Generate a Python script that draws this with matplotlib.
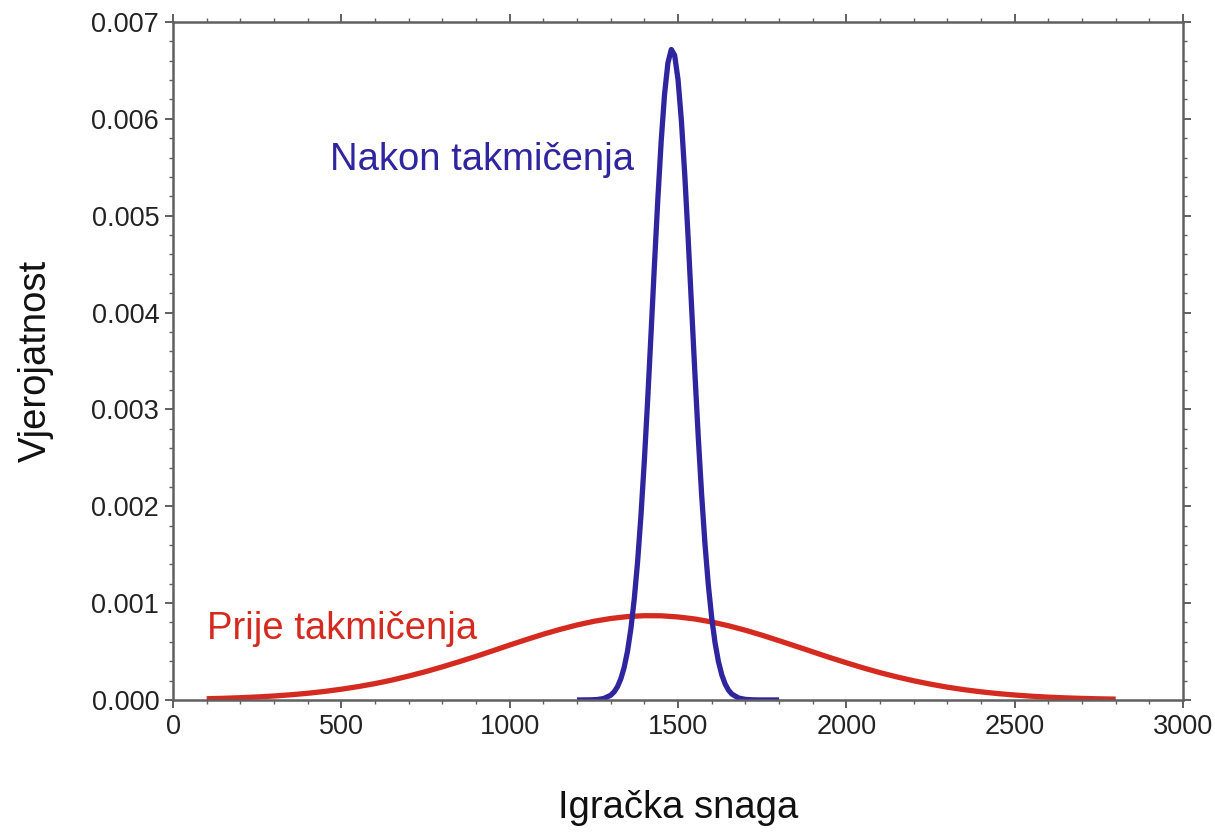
import matplotlib
matplotlib.use("Agg")
import matplotlib.pyplot as plt
from matplotlib.ticker import MultipleLocator, FormatStrFormatter

# Data (x = playing strength, y = probability density)
before_x = [100, 150, 200, 250, 300, 350, 400, 450, 500, 550, 600, 650, 700, 750, 800,
            850, 900, 950, 1000, 1050, 1100, 1150, 1200, 1250, 1300, 1350, 1400, 1450,
            1500, 1550, 1600, 1650, 1700, 1750, 1800, 1850, 1900, 1950, 2000, 2050,
            2100, 2150, 2200, 2250, 2300, 2350, 2400, 2450, 2500, 2550, 2600, 2650,
            2700, 2750, 2800]
before_y = [0.0000125, 0.0000171, 0.0000232, 0.000031, 0.000041, 0.0000535, 0.000069,
            0.000088, 0.000111, 0.000138, 0.000169, 0.000205, 0.000247, 0.000292,
            0.000342, 0.000395, 0.000450, 0.000508, 0.000567, 0.000624, 0.000679,
            0.000729, 0.000774, 0.000812, 0.000841, 0.000861, 0.000870, 0.000869,
            0.000857, 0.000836, 0.000805, 0.000766, 0.000720, 0.000668, 0.000612,
            0.000555, 0.000497, 0.000439, 0.000384, 0.000331, 0.000282, 0.000238,
            0.000198, 0.000163, 0.000132, 0.000106, 0.000084, 0.0000657, 0.000051,
            0.0000388, 0.000029, 0.0000218, 0.000016, 0.0000117, 0.0000085]

after_x = [1200, 1220, 1240, 1260, 1280, 1300, 1310, 1320, 1330, 1340, 1350, 1360,
           1370, 1380, 1390, 1400, 1410, 1420, 1430, 1440, 1450, 1460, 1470, 1480,
           1490, 1500, 1510, 1520, 1530, 1540, 1550, 1560, 1570, 1580, 1590, 1600,
           1610, 1620, 1630, 1640, 1650, 1660, 1680, 1700, 1720, 1740, 1760, 1780,
           1800]
after_y = [0.0, 0.00000025, 0.0000011, 0.0000044, 0.0000156, 0.0000489, 0.0000827,
           0.000136, 0.000217, 0.000336, 0.000504, 0.000736, 0.001042, 0.001431,
           0.00191, 0.002474, 0.00311, 0.003795, 0.004496, 0.005170, 0.005771,
           0.006254, 0.006578, 0.006716, 0.006656, 0.006404, 0.005981, 0.005422,
           0.004771, 0.004076, 0.00338, 0.002720, 0.002126, 0.001612, 0.001187,
           0.000848, 0.000589, 0.000396, 0.000259, 0.000164, 0.000101, 0.0000605,
           0.0000198, 0.0000058, 0.0000015, 0.0, 0.0, 0.0, 0.0]

label_before = "Prije takmičenja"
label_after = "Nakon takmičenja"

RED = "#D42A1F"
BLUE = "#2F259E"
AXIS = "#606060"

plt.rcParams['font.family'] = ['Liberation Sans', 'DejaVu Sans']

fig = plt.figure(figsize=(12.15, 8.32), dpi=100)
ax = fig.add_axes([0.1424, 0.1587, 0.8313, 0.8149])

ax.plot(before_x, before_y, color=RED, lw=3.8, solid_capstyle='butt')
ax.plot(after_x, after_y, color=BLUE, lw=3.8, solid_capstyle='butt')

ax.set_xlim(0, 3000)
ax.set_ylim(0, 0.007)
ax.xaxis.set_major_locator(MultipleLocator(500))
ax.xaxis.set_minor_locator(MultipleLocator(100))
ax.yaxis.set_major_locator(MultipleLocator(0.001))
ax.yaxis.set_minor_locator(MultipleLocator(0.0002))
ax.yaxis.set_major_formatter(FormatStrFormatter('%.3f'))

for s in ax.spines.values():
    s.set_color(AXIS)
    s.set_linewidth(1.8)
ax.tick_params(which='both', direction='out', top=True, right=True,
               color=AXIS, labelcolor='#222222', labelsize=19.5)
ax.tick_params(which='major', length=6, width=1.4, pad=4)
ax.tick_params(which='minor', length=3, width=1.0)

ax.set_xlabel("Igračka snaga", fontsize=27.5, labelpad=36, color='#111111')
ax.set_ylabel("Vjerojatnost", fontsize=27.5, labelpad=27, color='#111111')

ax.text(465, 0.00557, label_after, color=BLUE, fontsize=27.5, ha='left', va='center')
ax.text(100, 0.000735, label_before, color=RED, fontsize=27.5, ha='left', va='center')

fig.savefig("out.png", dpi=100)
